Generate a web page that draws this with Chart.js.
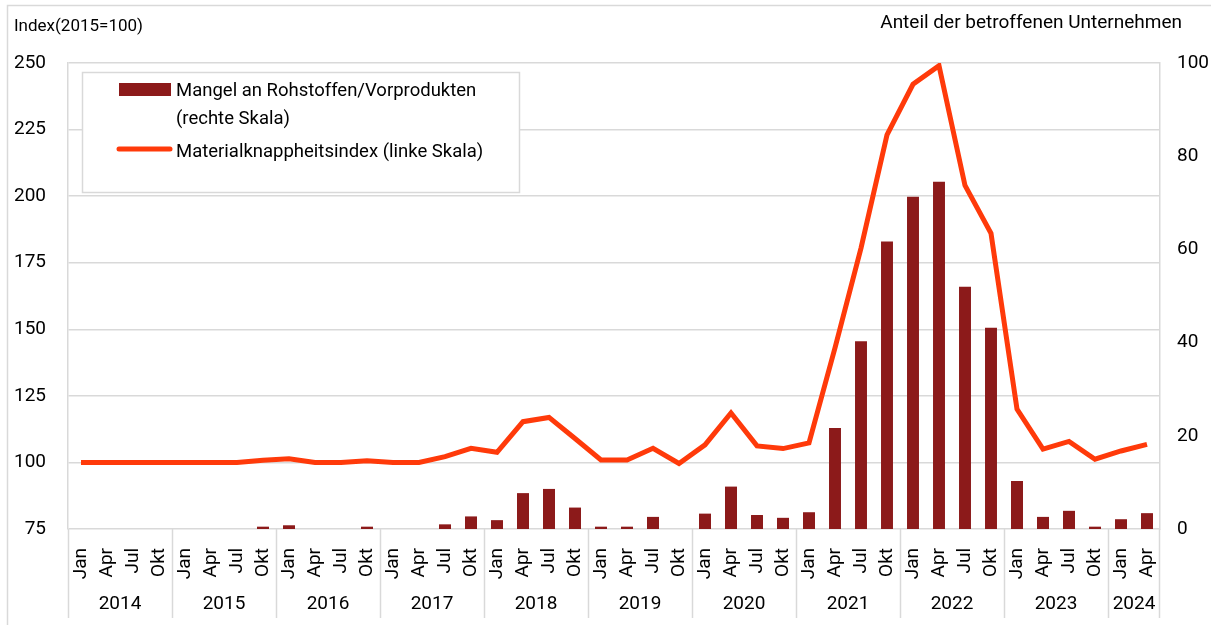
<!DOCTYPE html>
<html>
<head>
<meta charset="utf-8">
<script src="https://cdn.jsdelivr.net/npm/chart.js@4.4.1/dist/chart.umd.min.js"></script>
<style>
  body { margin: 0; background: #fff; }
  #wrap { width: 1211px; height: 625px; position: relative; }
</style>
</head>
<body>
<div id="wrap"><canvas id="chart"></canvas></div>
<script>
const years = ['2014', '2015', '2016', '2017', '2018', '2019', '2020', '2021', '2022', '2023', '2024'];
const months = ['Jan', 'Apr', 'Jul', 'Okt'];

// quarter labels, 2014 Jan .. 2024 Apr
const labels = [];
years.forEach(function (y) {
    months.forEach(function (m) { labels.push(m); });
});
labels.length = 42;

// share of firms reporting shortages (right axis, %)
const mangel = [
    0, 0, 0, 0,
    0, 0, 0, 0.5,
    0.8, 0, 0, 0.5,
    0, 0, 1.0, 2.7,
    1.9, 7.7, 8.6, 4.6,
    0.5, 0.5, 2.6, 0,
    3.3, 9.1, 3.0, 2.4,
    3.6, 21.7, 40.3, 61.7,
    71.3, 74.5, 52.0, 43.2,
    10.3, 2.6, 3.9, 0.5,
    2.1, 3.4
];

// material scarcity index (left axis, 2015=100)
const knappheit = [
    100, 100, 100, 100,
    100, 100, 100, 100.8,
    101.4, 100, 100, 100.6,
    100, 100, 102.2, 105.3,
    103.8, 115.3, 116.9, 109.0,
    100.9, 100.9, 105.3, 99.6,
    106.6, 118.6, 106.2, 105.2,
    107.3, 143.0, 180.5, 223.0,
    242.0, 249.0, 204.0, 186.0,
    120.0, 105.0, 107.9, 101.2,
    104.3, 106.8
];

const leftTicks = [75, 250, 25];
const rightTicks = [0, 100, 20];

const FONT = 'Roboto, "Liberation Sans", sans-serif';
const BAR_COLOR = '#8c1a1a';
const LINE_COLOR = '#ff3a0a';
const GRID = '#d9d9d9';

const decor = {
    id: 'decor',
    afterDraw: function (chart) {
        const ctx = chart.ctx;
        const area = chart.chartArea;
        const x = chart.scales.x;
        ctx.save();

        // outer frame
        ctx.strokeStyle = GRID;
        ctx.lineWidth = 1.5;
        ctx.strokeRect(7.5, 5.5, 1300, 700);

        // axis titles
        ctx.fillStyle = '#000';
        ctx.textBaseline = 'middle';
        ctx.textAlign = 'left';
        ctx.font = '17px ' + FONT;
        ctx.fillText('Index(2015=100)', 14, 27);
        ctx.textAlign = 'right';
        ctx.font = '19px ' + FONT;
        ctx.fillText('Anteil der betroffenen Unternehmen', 1182, 23);

        // year groups under the month ticks
        ctx.strokeStyle = GRID;
        ctx.lineWidth = 1.5;
        const half = (x.getPixelForValue(1) - x.getPixelForValue(0)) / 2;
        for (let g = 0; g < years.length; g++) {
            const first = g * 4;
            const last = Math.min(first + 3, labels.length - 1);
            const x0 = x.getPixelForValue(first) - half;
            const x1 = x.getPixelForValue(last) + half;
            ctx.beginPath();
            ctx.moveTo(Math.round(x0) + 0.5, area.bottom);
            ctx.lineTo(Math.round(x0) + 0.5, 618);
            ctx.stroke();
            if (g === years.length - 1) {
                ctx.beginPath();
                ctx.moveTo(Math.round(x1) - 0.5, area.bottom);
                ctx.lineTo(Math.round(x1) - 0.5, 618);
                ctx.stroke();
            }
            ctx.textAlign = 'center';
            ctx.font = '19px ' + FONT;
            ctx.fillText(years[g], (x0 + x1) / 2, 604);
        }

        // legend box
        ctx.fillStyle = '#fff';
        ctx.fillRect(82, 72, 437, 120);
        ctx.strokeStyle = GRID;
        ctx.strokeRect(82.5, 72.5, 437, 120);
        ctx.fillStyle = BAR_COLOR;
        ctx.fillRect(119, 83, 52, 13);
        ctx.strokeStyle = LINE_COLOR;
        ctx.lineWidth = 5;
        ctx.lineCap = 'round';
        ctx.beginPath();
        ctx.moveTo(119, 149);
        ctx.lineTo(170, 149);
        ctx.stroke();
        ctx.fillStyle = '#000';
        ctx.textAlign = 'left';
        ctx.textBaseline = 'alphabetic';
        ctx.font = '18.5px ' + FONT;
        ctx.fillText('Mangel an Rohstoffen/Vorprodukten', 176, 96);
        ctx.fillText('(rechte Skala)', 176, 124);
        ctx.fillText('Materialknappheitsindex (linke Skala)', 176, 157);

        ctx.restore();
    }
};

new Chart(document.getElementById('chart').getContext('2d'), {
    data: {
        labels: labels,
        datasets: [{
            type: 'line',
            label: 'Materialknappheitsindex (linke Skala)',
            data: knappheit,
            yAxisID: 'y',
            borderColor: LINE_COLOR,
            borderWidth: 5,
            pointRadius: 0,
            tension: 0,
            order: 1
        }, {
            type: 'bar',
            label: 'Mangel an Rohstoffen/Vorprodukten (rechte Skala)',
            data: mangel,
            yAxisID: 'y1',
            backgroundColor: BAR_COLOR,
            categoryPercentage: 1,
            barPercentage: 0.46,
            order: 2
        }]
    },
    options: {
        responsive: true,
        maintainAspectRatio: false,
        animation: false,
        layout: { padding: { top: 63, left: 0, right: 0, bottom: 0 } },
        plugins: {
            legend: { display: false },
            tooltip: { enabled: false }
        },
        scales: {
            x: {
                grid: { display: false },
                border: { display: false },
                ticks: {
                    autoSkip: false,
                    maxRotation: 90,
                    minRotation: 90,
                    padding: 11,
                    color: '#000',
                    font: { family: FONT, size: 19 }
                },
                afterFit: function (s) { s.height = 96; }
            },
            y: {
                position: 'left',
                min: leftTicks[0],
                max: leftTicks[1],
                grid: { color: GRID, lineWidth: 1.5, drawTicks: false },
                border: { color: GRID, width: 1.5 },
                ticks: {
                    stepSize: leftTicks[2],
                    padding: 22,
                    color: '#000',
                    font: { family: FONT, size: 19 }
                },
                afterFit: function (s) { s.width = 68; }
            },
            y1: {
                position: 'right',
                min: rightTicks[0],
                max: rightTicks[1],
                grid: { display: false, drawTicks: false },
                border: { color: GRID, width: 1.5 },
                ticks: {
                    stepSize: rightTicks[2],
                    padding: 17,
                    color: '#000',
                    font: { family: FONT, size: 19 }
                },
                afterFit: function (s) { s.width = 51; }
            }
        }
    },
    plugins: [decor]
});
</script>
</body>
</html>
